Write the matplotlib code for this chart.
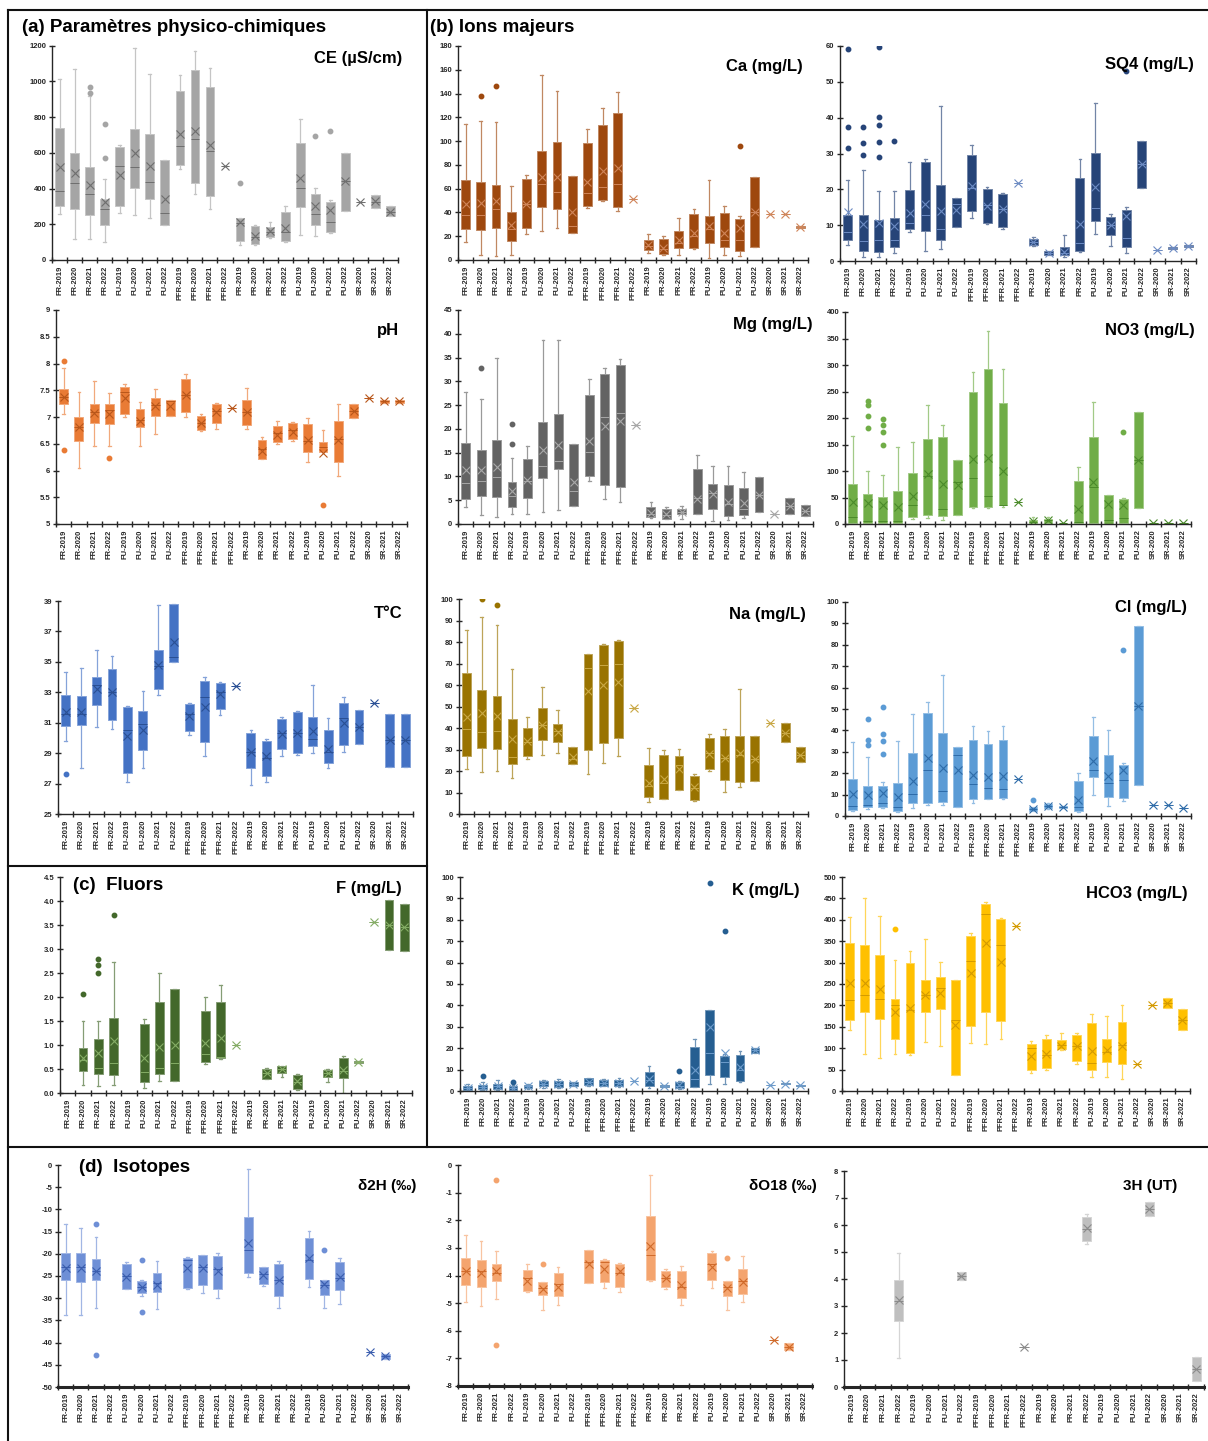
import matplotlib
matplotlib.use("Agg")
import matplotlib.pyplot as plt
from matplotlib.colors import to_rgb
from matplotlib.lines import Line2D
import numpy as np

plt.rcParams["font.family"] = ["Liberation Sans", "DejaVu Sans"]

W, H = 1208, 1441

CATS = ["FR-2019", "FR-2020", "FR-2021", "FR-2022",
        "FU-2019", "FU-2020", "FU-2021", "FU-2022",
        "PFR-2019", "PFR-2020", "PFR-2021", "PFR-2022",
        "PR-2019", "PR-2020", "PR-2021", "PR-2022",
        "PU-2019", "PU-2020", "PU-2021", "PU-2022",
        "SR-2020", "SR-2021", "SR-2022"]

# one row per category: (whisker low, Q1, median, Q3, whisker high, mean); None = no data
CE = [(260, 302, 385, 737, 1015, 520), (120, 285, 430, 600, 1070, 487),
      (120, 250, 368, 522, 920, 418), (100, 195, 283, 340, 455, 322),
      (262, 300, 525, 635, 645, 477), (250, 405, 518, 735, 1185, 597),
      (235, 342, 435, 708, 1040, 525), (197, 197, 265, 562, 562, 340),
      (508, 533, 640, 945, 1035, 705), (370, 432, 675, 1063, 1172, 720),
      (287, 358, 608, 968, 1073, 642), (527, 527, 527, 527, 527, 527),
      (85, 108, 205, 233, 233, 210), (85, 90, 130, 190, 198, 135),
      (125, 130, 155, 183, 215, 160), (100, 107, 158, 268, 300, 178),
      (140, 295, 405, 655, 790, 457), (133, 197, 255, 370, 405, 305),
      (150, 158, 215, 322, 335, 278), (277, 277, 440, 600, 600, 440),
      (325, 325, 325, 325, 325, 325), (292, 292, 325, 362, 362, 328),
      (245, 245, 268, 300, 300, 270)]
CE_FLIERS = {2: [935, 970], 3: [570, 760], 12: [430], 17: [697], 18: [722]}

PH = [(7.05, 7.24, 7.38, 7.53, 7.91, 7.37), (6.05, 6.56, 6.82, 7.0, 7.47, 6.81),
      (6.45, 6.88, 7.1, 7.25, 7.67, 7.08), (6.45, 6.87, 7.14, 7.24, 7.45, 7.05),
      (7.0, 7.05, 7.47, 7.56, 7.62, 7.35), (6.45, 6.81, 6.95, 7.15, 7.28, 6.93),
      (6.68, 7.02, 7.23, 7.35, 7.52, 7.2), (7.01, 7.01, 7.3, 7.32, 7.32, 7.2),
      (7.0, 7.1, 7.42, 7.71, 7.8, 7.41), (6.74, 6.75, 6.88, 7.01, 7.06, 6.88),
      (6.78, 6.88, 7.12, 7.24, 7.26, 7.09), (7.16, 7.16, 7.16, 7.16, 7.16, 7.16),
      (6.77, 6.85, 7.1, 7.31, 7.55, 7.09), (6.22, 6.22, 6.4, 6.57, 6.63, 6.37),
      (6.5, 6.53, 6.7, 6.83, 6.92, 6.67), (6.55, 6.58, 6.75, 6.88, 6.9, 6.72),
      (6.15, 6.35, 6.55, 6.87, 6.98, 6.57), (6.35, 6.35, 6.43, 6.54, 6.75, 6.33),
      (5.9, 6.15, 6.58, 6.92, 7.25, 6.57), (6.98, 6.98, 7.12, 7.25, 7.25, 7.12),
      (7.35, 7.35, 7.35, 7.35, 7.35, 7.35), (7.27, 7.27, 7.29, 7.31, 7.31, 7.29),
      (7.27, 7.27, 7.29, 7.31, 7.31, 7.29)]
PH_FLIERS = {0: [8.04, 6.38], 3: [6.24], 17: [5.36]}

TEMP = [(29.83, 30.8, 31.6, 32.83, 34.34, 31.7), (28.0, 30.82, 31.55, 32.77, 34.6, 31.7),
        (30.7, 32.17, 33.5, 34.03, 35.8, 33.2), (30.6, 31.2, 33.0, 34.54, 35.4, 33.0),
        (27.1, 27.67, 30.5, 32.04, 32.1, 30.1), (28.0, 29.18, 30.9, 31.74, 33.1, 30.5),
        (32.8, 33.2, 34.7, 35.78, 38.75, 34.8), (35.0, 35.0, 35.35, 38.78, 38.78, 36.3),
        (30.2, 30.47, 31.6, 32.24, 32.3, 31.45), (28.8, 29.7, 32.7, 33.75, 34.0, 32.05),
        (31.5, 31.9, 33.0, 33.6, 33.65, 32.9), (33.4, 33.4, 33.4, 33.4, 33.4, 33.4),
        (26.9, 28.0, 29.1, 30.3, 30.5, 29.05), (27.1, 27.47, 28.7, 29.8, 29.9, 28.8),
        (28.8, 29.3, 30.3, 31.26, 31.35, 30.25), (28.85, 28.98, 30.3, 31.7, 31.8, 30.35),
        (29.0, 29.5, 29.9, 31.4, 33.5, 30.45), (28.0, 28.35, 29.1, 30.5, 31.3, 29.3),
        (29.1, 29.55, 31.3, 32.3, 32.7, 31.0), (29.63, 29.63, 30.7, 31.82, 31.82, 30.7),
        (32.3, 32.3, 32.3, 32.3, 32.3, 32.3), (28.1, 28.1, 29.85, 31.6, 31.6, 29.85),
        (28.1, 28.1, 29.85, 31.6, 31.6, 29.85)]
TEMP_FLIERS = {0: [27.6]}

CA = [(15, 26, 38, 67, 114, 47), (4, 25.5, 38, 65.5, 117, 48),
      (3, 26.5, 43, 63.5, 116, 50), (4, 16, 26, 40.5, 62.5, 29.5),
      (22, 26.5, 47, 68.5, 71.5, 47), (24, 44.5, 64, 91.5, 155.5, 70),
      (27, 43, 57.5, 99.5, 142.5, 70), (23, 23, 28.5, 71, 71, 40.5),
      (43.5, 45.5, 56.5, 98, 110, 66), (49.5, 50.5, 61.5, 113.5, 128, 75),
      (41, 45, 64, 124, 141, 77), (51, 51, 51, 51, 51, 51),
      (5.5, 8, 12, 17, 21.5, 12.5), (4, 5, 9, 18, 20, 10.5),
      (4, 10, 14.5, 24.5, 35.5, 17), (9, 10, 20, 38.5, 42.5, 22.5),
      (1.5, 14.5, 26, 37, 67, 28.5), (4, 11, 17, 39.5, 45.5, 23),
      (3.5, 7.5, 17, 34.5, 37, 27), (11, 11, 40.5, 70, 70, 40.5),
      (38.5, 38.5, 38.5, 38.5, 38.5, 38.5), (38.5, 38.5, 38.5, 38.5, 38.5, 38.5),
      (26.5, 26.5, 27.5, 28.5, 28.5, 27.5)]
CA_FLIERS = {1: [138], 2: [146], 18: [96]}

SO4 = [(4.4, 6.0, 8.0, 12.8, 22.5, 13.6), (1.0, 2.8, 5.5, 12.9, 25.5, 10.3),
       (1.0, 2.4, 6.0, 11.5, 19.4, 10.5), (2.3, 3.9, 6.0, 12.1, 19.6, 9.7),
       (8.1, 8.8, 10.5, 19.7, 27.7, 13.5), (2.7, 8.3, 12.8, 27.5, 28.6, 15.8),
       (3.3, 5.8, 9.0, 21.1, 43.3, 14.0), (9.4, 9.4, 15.9, 17.6, 17.6, 14.3),
       (12.0, 14.0, 20.5, 29.5, 32.4, 21.0), (10.4, 10.6, 15.5, 20.2, 20.6, 15.3),
       (9.0, 9.5, 14.4, 18.7, 19.1, 14.4), (21.8, 21.8, 21.8, 21.8, 21.8, 21.8),
       (4.1, 4.4, 5.2, 6.1, 6.7, 5.2), (1.6, 1.7, 2.2, 2.7, 2.9, 2.2),
       (1.0, 1.6, 2.2, 4.0, 7.3, 2.6), (2.6, 2.8, 5.0, 23.1, 28.6, 10.4),
       (7.4, 11.2, 14.9, 30.2, 44.0, 20.7), (4.1, 7.3, 10.0, 12.4, 13.2, 10.0),
       (2.3, 3.9, 6.5, 14.1, 15.0, 12.5), (20.3, 20.3, 27.0, 33.5, 33.5, 27.0),
       (3.1, 3.1, 3.1, 3.1, 3.1, 3.1), (3.3, 3.3, 3.6, 3.9, 3.9, 3.6),
       (3.9, 3.9, 4.2, 4.5, 4.5, 4.2)]
SO4_FLIERS = {0: [59.2, 37.5, 31.6], 1: [37.4, 32.9, 29.7],
              2: [59.8, 40.1, 37.9, 33.2, 29.1], 3: [33.6], 18: [53.1]}

MG = [(3.5, 5.3, 8.7, 17.0, 27.8, 11.4), (1.8, 5.9, 9.1, 15.6, 26.2, 11.3),
      (1.4, 5.7, 9.8, 17.6, 34.9, 11.9), (2.0, 3.6, 5.8, 8.9, 13.8, 7.0),
      (2.2, 5.5, 9.0, 13.6, 16.5, 9.3), (2.5, 9.6, 12.2, 21.4, 38.6, 15.6),
      (2.9, 11.5, 13.3, 23.1, 38.6, 16.7), (3.7, 3.7, 6.9, 16.8, 16.8, 8.9),
      (9.0, 10.1, 15.2, 27.1, 30.5, 17.4), (5.3, 8.1, 22.5, 31.6, 32.8, 20.7),
      (4.6, 7.7, 23.4, 33.4, 34.8, 21.6), (20.8, 20.8, 20.8, 20.8, 20.8, 20.8),
      (1.2, 1.4, 2.2, 3.6, 4.6, 2.3), (1.1, 1.1, 1.9, 3.1, 3.5, 2.0),
      (1.1, 2.0, 2.6, 3.2, 3.8, 2.6), (2.0, 2.0, 5.5, 11.6, 14.5, 5.3),
      (0.7, 3.1, 6.5, 8.5, 12.1, 6.4), (0.9, 1.6, 4.3, 8.2, 12.1, 4.6),
      (1.2, 1.8, 3.2, 7.5, 11.0, 4.4), (2.5, 2.5, 6.2, 9.8, 9.8, 6.2),
      (2.0, 2.0, 2.0, 2.0, 2.0, 2.0), (2.0, 2.0, 3.7, 5.4, 5.4, 3.7),
      (1.6, 1.6, 2.7, 3.9, 3.9, 2.7)]
MG_FLIERS = {1: [32.9], 3: [21.0, 16.9]}

NO3 = [(0, 1, 13, 75, 166, 42), (0, 1, 6, 56, 100, 40),
       (0, 1, 6, 51, 92, 36), (0, 1, 5, 63, 146, 33),
       (9, 13, 35, 96, 155, 52), (12, 17, 90, 160, 225, 95),
       (8, 15, 28, 164, 186, 75), (17, 17, 80, 121, 121, 73),
       (31, 33, 86, 249, 286, 122), (31, 33, 53, 292, 365, 125),
       (33, 35, 36, 228, 292, 100), (42, 42, 42, 42, 42, 42),
       (0.5, 1, 4, 7, 14, 5), (1, 2, 7, 10, 13, 7),
       (2, 2, 2, 2, 2, 2), (0, 1, 3, 81, 108, 29),
       (0, 1, 70, 165, 231, 79), (0, 0, 8, 55, 55, 38),
       (0.5, 1, 12, 47, 50, 36), (30, 30, 120, 212, 212, 120),
       (2, 2, 2, 2, 2, 2), (1, 1, 1, 1, 1, 1),
       (1.5, 1.5, 1.5, 1.5, 1.5, 1.5)]
NO3_FLIERS = {1: [233, 225, 204, 182], 2: [199, 187, 174, 150], 18: [174]}

NA = [(21.1, 27.0, 39.5, 65.8, 85.6, 45.3), (19.6, 30.5, 38.1, 57.7, 91.7, 46.8),
      (19.8, 30.1, 38.4, 55.1, 87.8, 45.5), (16.8, 23.2, 26.6, 44.2, 67.4, 35.1),
      (25.7, 26.9, 33.5, 40.2, 45.3, 33.8), (27.4, 34.2, 41.5, 49.1, 59.2, 41.6),
      (28.6, 33.5, 38.4, 41.8, 48.2, 38.3), (23.4, 23.4, 25.8, 31.2, 31.2, 26.5),
      (18.5, 29.6, 68.1, 74.2, 74.5, 57.3), (23.5, 32.9, 69.2, 78.6, 78.9, 60.2),
      (26.9, 35.3, 69.7, 80.6, 80.9, 61.6), (49.2, 49.2, 49.2, 49.2, 49.2, 49.2),
      (5.5, 7.7, 13.0, 22.6, 30.7, 14.3), (7.0, 7.1, 14.5, 27.6, 29.9, 16.2),
      (11.0, 11.3, 22.7, 27.2, 30.2, 21.0), (6.0, 6.4, 12.0, 17.9, 18.4, 12.5),
      (20.0, 20.8, 28.5, 35.5, 37.4, 28.1), (10.3, 15.9, 26.0, 36.1, 39.6, 25.9),
      (12.6, 14.9, 27.5, 36.4, 58.2, 28.2), (15.3, 15.3, 25.8, 36.4, 36.4, 25.8),
      (42.3, 42.3, 42.3, 42.3, 42.3, 42.3), (33.5, 33.5, 37.8, 42.1, 42.1, 37.8),
      (24.4, 24.4, 27.5, 31.0, 31.0, 27.5)]
NA_FLIERS = {1: [99.8], 2: [97.3]}

CL = [(2.3, 2.6, 4.5, 17.3, 34.8, 10.1), (3.3, 4.1, 5.3, 13.8, 27.4, 9.8),
      (3.6, 4.4, 5.9, 13.8, 15.9, 10.9), (2.1, 2.4, 4.2, 15.6, 35.0, 8.8),
      (3.9, 5.9, 10.4, 29.5, 47.8, 16.3), (5.3, 6.1, 21.5, 48.3, 53.4, 26.9),
      (5.0, 6.4, 11.5, 38.9, 65.8, 22.4), (4.3, 4.3, 28.3, 32.3, 32.3, 21.4),
      (6.3, 8.1, 14.9, 35.6, 42.2, 19.2), (7.8, 8.1, 13.2, 33.6, 39.5, 18.2),
      (8.1, 8.4, 12.8, 35.6, 42.2, 18.9), (17.3, 17.3, 17.3, 17.3, 17.3, 17.3),
      (2.5, 2.5, 3.5, 4.3, 4.3, 3.3), (3.2, 3.6, 4.6, 5.8, 6.3, 4.5),
      (3.7, 3.7, 4.3, 4.9, 4.9, 4.3), (1.9, 2.4, 4.2, 16.2, 20.2, 7.4),
      (9.6, 18.4, 21.3, 37.2, 46.3, 25.7), (4.7, 8.8, 15.3, 28.3, 40.2, 18.5),
      (7.2, 8.6, 16.7, 23.8, 24.9, 21.6), (14.4, 14.4, 51.5, 88.6, 88.6, 51.5),
      (5.1, 5.1, 5.1, 5.1, 5.1, 5.1), (5.1, 5.1, 5.1, 5.1, 5.1, 5.1),
      (3.6, 3.6, 3.6, 3.6, 3.6, 3.6)]
CL_FLIERS = {1: [45.1, 35.3, 33.1], 2: [50.8, 38.4, 35.2, 28.9], 12: [7.6], 18: [77.7]}

FLUOR = [None, (0.17, 0.45, 0.68, 0.93, 1.51, 0.72),
         (0.15, 0.39, 0.53, 1.13, 1.50, 0.84), (0.17, 0.37, 0.62, 1.57, 2.73, 1.08),
         None, (0.11, 0.22, 0.43, 1.44, 1.55, 0.73),
         (0.24, 0.39, 0.53, 1.90, 2.50, 0.95), (0.26, 0.26, 0.63, 2.16, 2.16, 1.0),
         None, (0.60, 0.65, 0.82, 1.70, 1.99, 1.05),
         (0.71, 0.72, 0.76, 1.90, 2.26, 1.15), (1.0, 1.0, 1.0, 1.0, 1.0, 1.0),
         None, (0.29, 0.30, 0.42, 0.50, 0.52, 0.41),
         (0.33, 0.41, 0.50, 0.57, 0.57, 0.49), (0.07, 0.09, 0.22, 0.38, 0.40, 0.24),
         None, (0.22, 0.33, 0.42, 0.47, 0.50, 0.42),
         (0.0, 0.32, 0.45, 0.73, 0.77, 0.47), (0.62, 0.62, 0.64, 0.66, 0.66, 0.64),
         (3.56, 3.56, 3.56, 3.56, 3.56, 3.56), (2.98, 2.98, 3.5, 4.02, 4.02, 3.5),
         (2.96, 2.96, 3.45, 3.94, 3.94, 3.45)]
FLUOR_FLIERS = {1: [2.07], 2: [2.8, 2.67, 2.5], 3: [3.71]}

K = [(0.3, 0.5, 1.3, 2.3, 3.3, 1.5), (0.5, 0.8, 1.8, 3.0, 4.0, 2.0),
     (0.5, 0.8, 2.2, 3.5, 5.0, 2.4), (0.3, 0.5, 1.4, 2.2, 2.8, 1.6),
     (1.0, 1.2, 2.2, 3.0, 3.2, 2.2), (1.6, 2.2, 3.5, 4.8, 5.1, 3.5),
     (1.2, 2.0, 3.4, 4.9, 5.4, 3.5), (2.3, 2.3, 3.1, 4.0, 4.0, 3.1),
     (2.5, 2.6, 4.3, 6.1, 6.3, 4.3), (2.2, 2.3, 3.9, 5.3, 5.8, 3.9),
     (2.1, 2.3, 3.8, 5.3, 6.0, 3.8), (4.9, 4.9, 4.9, 4.9, 4.9, 4.9),
     (1.5, 2.2, 5.3, 8.8, 11.8, 5.4), (1.9, 1.9, 2.4, 2.9, 2.9, 2.4),
     (1.0, 1.4, 2.5, 4.2, 4.8, 2.8), (1.8, 2.1, 5.5, 20.5, 24.4, 9.6),
     (3.4, 7.4, 17.8, 37.8, 37.8, 30.1), (3.1, 6.4, 13.5, 16.3, 17.5, 17.7),
     (4.0, 4.7, 10.0, 17.0, 18.9, 11.0), (17.9, 17.9, 19.1, 20.3, 20.3, 19.1),
     (2.9, 2.9, 2.9, 2.9, 2.9, 2.9), (3.1, 3.1, 3.4, 3.7, 3.7, 3.4),
     (2.3, 2.3, 2.6, 2.9, 2.9, 2.6)]
K_FLIERS = {1: [6.9], 3: [4.3], 14: [9.4], 16: [97.3], 17: [74.7]}

HCO3 = [(142, 165, 213, 345, 407, 252), (87, 185, 225, 340, 452, 253),
        (76, 169, 214, 318, 408, 239), (87, 122, 200, 215, 306, 185),
        (84, 88, 190, 300, 327, 193), (114, 184, 225, 260, 355, 225),
        (106, 192, 240, 267, 302, 228), (37, 37, 167, 259, 259, 155),
        (111, 151, 304, 361, 370, 275), (110, 184, 413, 436, 441, 345),
        (122, 163, 342, 401, 405, 301), (385, 385, 385, 385, 385, 385),
        (42, 48, 100, 110, 117, 81), (48, 53, 83, 121, 130, 86),
        (95, 97, 107, 118, 135, 106), (62, 70, 105, 131, 135, 104),
        (32, 50, 66, 158, 179, 93), (33, 68, 90, 121, 176, 95),
        (27, 62, 107, 161, 200, 106), (62, 62, 62, 62, 62, 62),
        (202, 202, 202, 202, 202, 202), (193, 193, 205, 218, 218, 205),
        (142, 142, 167, 191, 191, 167)]
HCO3_FLIERS = {3: [378]}

D2H = [(-33.7, -25.9, -23.0, -19.9, -13.3, -23.2), (-33.7, -26.3, -23.0, -19.9, -14.2, -23.3),
       (-32.3, -25.9, -23.8, -21.1, -16.2, -23.8), None,
       (-28.0, -28.0, -25.0, -22.3, -21.8, -25.2), (-29.6, -28.8, -27.5, -26.2, -26.0, -27.4),
       (-32.5, -28.6, -26.5, -24.4, -21.7, -27.0), None,
       (-27.9, -27.7, -21.5, -20.9, -20.8, -23.3), (-28.9, -27.1, -23.0, -20.3, -20.2, -23.2),
       (-29.9, -28.0, -23.5, -20.5, -19.9, -23.9), None,
       (-25.3, -24.4, -19.2, -11.7, -0.8, -17.5), (-27.3, -26.7, -24.5, -22.9, -22.9, -24.7),
       (-32.1, -29.5, -26.0, -22.4, -21.7, -25.8), None,
       (-27.5, -25.6, -21.5, -16.4, -14.8, -21.0), (-32.1, -29.3, -27.0, -25.9, -26.0, -26.8),
       (-31.2, -28.2, -25.5, -21.8, -21.0, -25.3), None,
       (-42.1, -42.1, -42.1, -42.1, -42.1, -42.1), (-43.6, -43.6, -43.1, -42.6, -42.6, -43.1),
       None]
D2H_FLIERS = {2: [-13.2, -42.9], 5: [-21.5, -33.2], 17: [-19.1]}

D18O = [(-4.95, -4.33, -3.85, -3.38, -2.52, -3.85), (-5.1, -4.41, -3.85, -3.44, -2.75, -3.9),
        (-4.85, -4.2, -3.9, -3.59, -3.1, -3.85), None,
        (-4.6, -4.55, -4.1, -3.8, -3.6, -4.2), (-5.25, -4.7, -4.45, -4.25, -4.25, -4.5),
        (-5.05, -4.75, -4.3, -3.9, -3.7, -4.4), None,
        (-4.28, -4.28, -3.5, -3.07, -3.07, -3.6), (-4.45, -4.25, -3.5, -3.45, -3.4, -3.75),
        (-4.6, -4.42, -3.9, -3.57, -3.55, -3.85), None,
        (-4.2, -4.18, -3.27, -1.83, -0.35, -2.93), (-4.5, -4.4, -4.1, -3.85, -3.75, -4.1),
        (-5.05, -4.8, -4.4, -3.85, -3.65, -4.35), None,
        (-4.45, -4.15, -3.6, -3.2, -3.1, -3.7), (-5.25, -4.75, -4.4, -4.2, -4.2, -4.45),
        (-4.95, -4.68, -4.2, -3.78, -3.3, -4.25), None,
        (-6.35, -6.35, -6.35, -6.35, -6.35, -6.35), (-6.7, -6.7, -6.58, -6.45, -6.45, -6.58),
        None]
D18O_FLIERS = {2: [-0.55, -6.5], 5: [-3.57], 17: [-3.37]}

TRIT = [None, None, None, (1.07, 2.43, 3.2, 3.97, 4.96, 3.23),
        None, None, None, (3.95, 3.95, 4.1, 4.25, 4.25, 4.1),
        None, None, None, (1.47, 1.47, 1.47, 1.47, 1.47, 1.47),
        None, None, None, (5.3, 5.4, 5.85, 6.3, 6.4, 5.9),
        None, None, None, (6.35, 6.35, 6.6, 6.85, 6.85, 6.6),
        None, None, (0.22, 0.22, 0.67, 1.12, 1.12, 0.67)]
TRIT_FLIERS = {}

fig = plt.figure(figsize=(W / 100, H / 100), dpi=100)


def lighten(c, f):
    r, g, b = to_rgb(c)
    return (r + (1 - r) * f, g + (1 - g) * f, b + (1 - b) * f)


def panel(box, data, fliers, color, accent, yticks, fmt, unit, unit_xy,
          unit_size=12, iso=False):
    x0, yt, x1, yb = box
    ax = fig.add_axes([x0 / W, 1 - yb / H, (x1 - x0) / W, (yb - yt) / H])
    stats, pos = [], []
    for i, row in enumerate(data):
        if row is None:
            continue
        lo, q1, med, q3, hi, mean = row
        stats.append(dict(whislo=lo, q1=q1, med=med, q3=q3, whishi=hi,
                          mean=mean, fliers=fliers.get(i, [])))
        pos.append(i + 1)
    light = lighten(color, 0.35)
    ax.bxp(stats, positions=pos, widths=0.58, patch_artist=True,
           showmeans=True, capwidths=0.18,
           boxprops=dict(facecolor=color, edgecolor=light, linewidth=0.7),
           medianprops=dict(color=accent, linewidth=0.7),
           whiskerprops=dict(color=light, linewidth=0.9),
           capprops=dict(color=light, linewidth=0.9),
           meanprops=dict(marker="x", markeredgecolor=accent, markersize=5.5,
                          markeredgewidth=0.8),
           flierprops=dict(marker="o", markerfacecolor=color,
                           markeredgecolor=color, markersize=3.2))

    ax.set_xlim(0.5, len(CATS) + 0.5)
    ax.set_ylim(min(yticks), max(yticks))
    ax.set_yticks(yticks)
    ax.set_yticklabels([fmt.format(v) for v in yticks], fontsize=5.5,
                       fontweight="bold", color="#262626")
    ax.set_xticks(np.arange(0.5, len(CATS) + 1, 1))
    ax.set_xticklabels([])
    ax.set_xticks(np.arange(1, len(CATS) + 1), minor=True)
    ax.set_xticklabels(CATS, minor=True, rotation=90, fontsize=5.4,
                       fontweight="bold", color="#262626")
    ax.tick_params(axis="x", which="major", direction="inout", length=5,
                   width=1.0, color="#262626")
    ax.tick_params(axis="x", which="minor", length=0, pad=4)
    ax.tick_params(axis="y", direction="inout", length=4, width=1.0,
                   color="#262626", pad=2)
    for s in ("top", "right"):
        ax.spines[s].set_visible(False)
    for s in ("left", "bottom"):
        ax.spines[s].set_color("#262626")
        ax.spines[s].set_linewidth(1.0)
    if iso:
        ax.spines["bottom"].set_linewidth(2.2)
    ax.patch.set_alpha(0)
    fig.text(unit_xy[0] / W, 1 - unit_xy[1] / H, unit, ha="right",
             va="center", fontsize=unit_size, fontweight="bold")
    return ax


# (a) physico-chemical parameters
panel((52, 45.7, 398, 260), CE, CE_FLIERS, "#A5A5A5", "#6E6E6E",
      list(range(0, 1201, 200)), "{:g}", "CE (µS/cm)", (402, 59))
panel((56, 310, 407, 524), PH, PH_FLIERS, "#E97B35", "#B8561A",
      list(np.arange(5, 9.01, 0.5)), "{:g}", "pH", (399, 330))
panel((58, 601, 413, 814), TEMP, TEMP_FLIERS, "#4472C4", "#2A4F93",
      list(range(25, 40, 2)), "{:g}", "T°C", (403, 613))

# (b) major ions
panel((458, 46, 808, 260), CA, CA_FLIERS, "#9E480E", "#D0855A",
      list(range(0, 181, 20)), "{:g}", "Ca (mg/L)", (803, 66))
panel((840, 46, 1196, 261), SO4, SO4_FLIERS, "#264478", "#6D8CC4",
      list(range(0, 61, 10)), "{:g}", "SQ4 (mg/L)", (1194, 65))
panel((458, 310, 813, 524), MG, MG_FLIERS, "#636363", "#A8A8A8",
      list(range(0, 46, 5)), "{:g}", "Mg (mg/L)", (813, 325))
panel((845, 312, 1191, 524), NO3, NO3_FLIERS, "#70AD47", "#4A8A2A",
      list(range(0, 401, 50)), "{:g}", "NO3 (mg/L)", (1195, 331))
panel((459, 599, 808, 814), NA, NA_FLIERS, "#997300", "#C9A845",
      list(range(0, 101, 10)), "{:g}", "Na (mg/L)", (806, 614))
panel((845, 602, 1191, 816), CL, CL_FLIERS, "#5B9BD5", "#2E6BA8",
      list(range(0, 101, 10)), "{:g}", "Cl (mg/L)", (1187, 608))
panel((460, 877, 808, 1091), K, K_FLIERS, "#255E91", "#6D9BCB",
      list(range(0, 101, 10)), "{:g}", "K (mg/L)", (800, 891))
panel((842, 877, 1190, 1091), HCO3, HCO3_FLIERS, "#FFC000", "#D39A00",
      list(range(0, 501, 50)), "{:g}", "HCO3 (mg/L)", (1188, 894))

# (c) fluoride
panel((60, 877, 412, 1093), FLUOR, FLUOR_FLIERS, "#43682B", "#85AD66",
      list(np.arange(0, 4.51, 0.5)), "{:.1f}", "F (mg/L)", (402, 888))

# (d) isotopes
panel((58, 1165, 408, 1387), D2H, D2H_FLIERS, "#6E8FD6", "#3A5DAE",
      list(range(-50, 1, 5)), "{:g}", "δ2H (‰)", (416, 1186), 11, True)
panel((458, 1165, 812, 1386), D18O, D18O_FLIERS, "#F4A46E", "#CF6A2A",
      list(range(-8, 1, 1)), "{:g}", "δO18 (‰)", (817, 1186), 11, True)
panel((844, 1171, 1204, 1387), TRIT, TRIT_FLIERS, "#BFBFBF", "#8A8A8A",
      list(range(0, 9, 1)), "{:g}", "3H (UT)", (1177, 1186), 11, True)

# section headers
for txt, x, y in [("(a) Paramètres physico-chimiques", 22, 28),
                  ("(b) Ions majeurs", 430, 28),
                  ("(c)  Fluors", 73, 885),
                  ("(d)  Isotopes", 79, 1167)]:
    fig.text(x / W, 1 - y / H, txt, ha="left", va="center", fontsize=13.5,
             fontweight="bold")

# frame lines between sections
for (xa, ya, xb, yb) in [(8, 10, 1208, 10), (8, 10, 8, 1441),
                         (427, 10, 427, 1147), (8, 866, 427, 866),
                         (8, 1147, 1208, 1147)]:
    fig.add_artist(Line2D([xa / W, xb / W], [1 - ya / H, 1 - yb / H],
                          color="#111111", linewidth=1.5))

fig.savefig("out.png", dpi=100)
